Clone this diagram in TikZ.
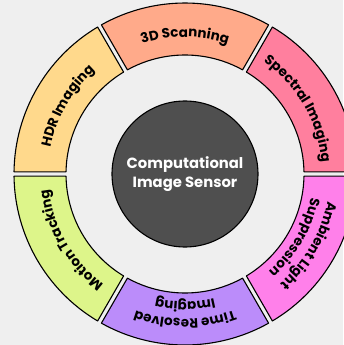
\documentclass[tikz,border=0pt]{standalone}
\usepackage{fontspec}
\setmainfont{Poppins}
\usetikzlibrary{decorations.text}

\definecolor{bgGray}{HTML}{EFEFEF}
\definecolor{hubGray}{HTML}{4F4F4F}
\definecolor{scanColor}{HTML}{FFAA8A}
\definecolor{spectralColor}{HTML}{FF7F9E}
\definecolor{ambientColor}{HTML}{FF80EA}
\definecolor{timeColor}{HTML}{BB8CFA}
\definecolor{motionColor}{HTML}{DDF58A}
\definecolor{hdrColor}{HTML}{FFD98C}

\def \Rin {119}
\def \Rout {171}
\def \gap {2.2}
\def \partFont {\fontsize{13.5}{15}\selectfont\bfseries}

% one piece of the ring: start angle, end angle, colour
\newcommand\ringPart[3]{%
   \filldraw[part, fill=#3]
      ({#1+asin(\gap/\Rout)}:\Rout pt)
         arc[start angle={#1+asin(\gap/\Rout)}, end angle={#2-asin(\gap/\Rout)}, radius=\Rout pt]
      -- ({#2-asin(\gap/\Rin)}:\Rin pt)
         arc[start angle={#2-asin(\gap/\Rin)}, end angle={#1+asin(\gap/\Rin)}, radius=\Rin pt]
      -- cycle;}

% text bent clockwise round the centre: middle angle, radius, text
\newcommand\arcText[3]{%
   \path[decorate, decoration={text along path, text align=center, text={|\partFont|#3}}]
      ({#1+45}:#2 pt) arc[start angle={#1+45}, end angle={#1-45}, radius=#2 pt];}

\begin{document}
\begin{tikzpicture}[
      part/.style={draw=black, line width=1.1pt, line join=round},
      hub/.style={circle, draw=black, line width=1.1pt, fill=hubGray, minimum size=146pt,
         text=white, align=center, font=\fontsize{14.8}{19}\selectfont\bfseries}
   ]

      \useasboundingbox (-185pt,-171pt) rectangle (158pt,174pt);
      \fill[bgGray] (-185pt,-171pt) rectangle (158pt,174pt);

      \ringPart{0}{60}{spectralColor}
      \ringPart{60}{120}{scanColor}
      \ringPart{120}{180}{hdrColor}
      \ringPart{180}{240}{motionColor}
      \ringPart{240}{300}{timeColor}
      \ringPart{300}{360}{ambientColor}

      \arcText{90}{137}{3D Scanning}
      \arcText{30}{137}{Spectral Imaging}
      \arcText{-30}{145}{Ambient Light}
      \arcText{-30}{128}{Suppression}
      \arcText{-90}{145}{Time Resolved}
      \arcText{-90}{128}{Imaging}
      \arcText{210}{137}{Motion Tracking}
      \arcText{150}{137}{HDR Imaging}

      \node[hub] (hub) at (0,0) {Computational\\Image Sensor};

   \end{tikzpicture}
\end{document}
